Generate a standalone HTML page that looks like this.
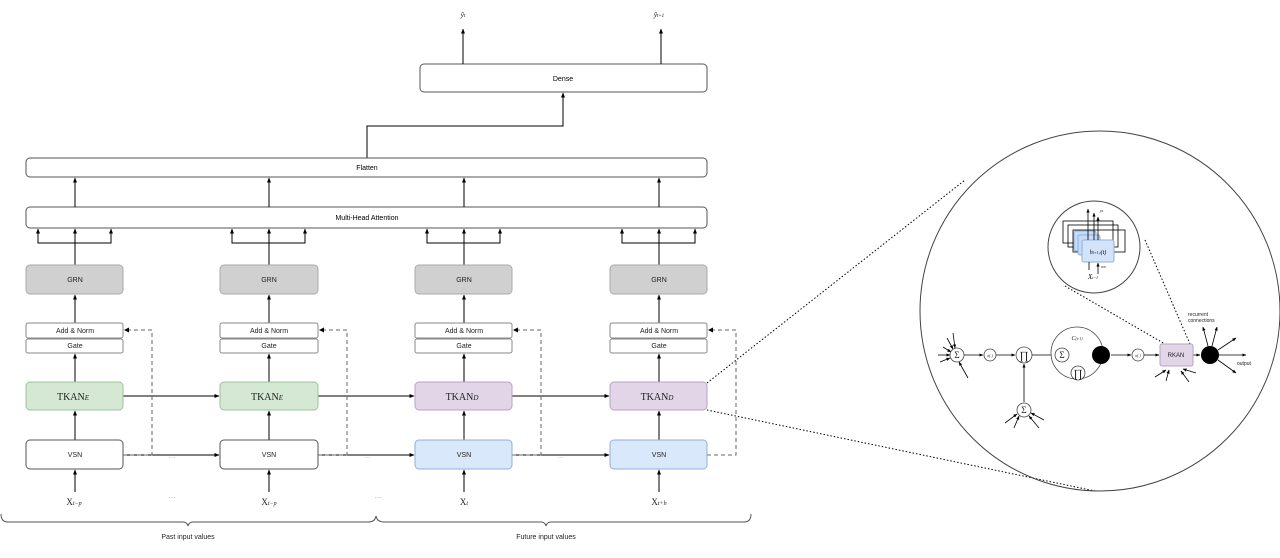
<!DOCTYPE html>
<html><head><meta charset="utf-8"><style>
html,body{margin:0;padding:0;background:#fff;}
svg{display:block;font-family:"Liberation Sans",sans-serif;}
</style></head><body>
<svg width="1280" height="558" viewBox="0 0 1280 558" xmlns="http://www.w3.org/2000/svg">
<defs>
<marker id="a" viewBox="0 0 10 10" refX="9" refY="5" markerWidth="5" markerHeight="5" orient="auto"><path d="M0,1 L10,5 L0,9 z" fill="#000"/></marker>
</defs>
<g stroke="#555" stroke-width="1" fill="none">
<!-- Dense -->
<rect x="420" y="64" width="287" height="28" rx="4" fill="#fff"/>
<line x1="463" y1="64" x2="463" y2="29" stroke="#000" marker-end="url(#a)"/>
<line x1="661" y1="64" x2="661" y2="29" stroke="#000" marker-end="url(#a)"/>
<polyline points="367,158 367,126 563,126 563,93" stroke="#000" marker-end="url(#a)"/>
<rect x="26" y="158" width="681" height="19" rx="4" fill="#fff"/>
<rect x="26" y="207" width="681" height="21" rx="4" fill="#fff"/>
</g>
<g font-size="7" text-anchor="middle" fill="#000">
<text x="563" y="81">Dense</text>
<text x="367" y="170">Flatten</text>
<text x="367" y="220">Multi-Head Attention</text>
<text x="463" y="17" font-family="Liberation Serif" font-style="italic" font-size="7">ŷ<tspan font-size="5">t</tspan></text>
<text x="659" y="17" font-family="Liberation Serif" font-style="italic" font-size="7">ŷ<tspan font-size="5">t+1</tspan></text>
</g>

<!-- Columns -->
<g id="cols" stroke-width="1">
<!-- generated per column -->
</g>
<g fill="none" stroke="#000">
<!-- col x: 26,220,415,610 ; centers 75,269,464,659 -->
<!-- MHA to flatten -->
<line x1="75" y1="207" x2="75" y2="178" marker-end="url(#a)"/>
<line x1="269" y1="207" x2="269" y2="178" marker-end="url(#a)"/>
<line x1="464" y1="207" x2="464" y2="178" marker-end="url(#a)"/>
<line x1="659" y1="207" x2="659" y2="178" marker-end="url(#a)"/>
<!-- branches -->
<g>
<line x1="75" y1="265" x2="75" y2="229" marker-end="url(#a)"/><polyline points="38,229 38,243 111,243 111,229"/><line x1="38" y1="232" x2="38" y2="229" marker-end="url(#a)"/><line x1="111" y1="232" x2="111" y2="229" marker-end="url(#a)"/>
<line x1="269" y1="265" x2="269" y2="229" marker-end="url(#a)"/><polyline points="232,229 232,243 305,243 305,229"/><line x1="232" y1="232" x2="232" y2="229" marker-end="url(#a)"/><line x1="305" y1="232" x2="305" y2="229" marker-end="url(#a)"/>
<line x1="464" y1="265" x2="464" y2="229" marker-end="url(#a)"/><polyline points="427,229 427,243 500,243 500,229"/><line x1="427" y1="232" x2="427" y2="229" marker-end="url(#a)"/><line x1="500" y1="232" x2="500" y2="229" marker-end="url(#a)"/>
<line x1="659" y1="265" x2="659" y2="229" marker-end="url(#a)"/><polyline points="622,229 622,243 695,243 695,229"/><line x1="622" y1="232" x2="622" y2="229" marker-end="url(#a)"/><line x1="695" y1="232" x2="695" y2="229" marker-end="url(#a)"/>
</g>
<!-- vertical chain -->
<g>
<line x1="75" y1="323" x2="75" y2="295" marker-end="url(#a)"/><line x1="75" y1="382" x2="75" y2="354" marker-end="url(#a)"/><line x1="75" y1="440" x2="75" y2="411" marker-end="url(#a)"/><line x1="75" y1="492" x2="75" y2="470" marker-end="url(#a)"/>
<line x1="269" y1="323" x2="269" y2="295" marker-end="url(#a)"/><line x1="269" y1="382" x2="269" y2="354" marker-end="url(#a)"/><line x1="269" y1="440" x2="269" y2="411" marker-end="url(#a)"/><line x1="269" y1="492" x2="269" y2="470" marker-end="url(#a)"/>
<line x1="464" y1="323" x2="464" y2="295" marker-end="url(#a)"/><line x1="464" y1="382" x2="464" y2="354" marker-end="url(#a)"/><line x1="464" y1="440" x2="464" y2="411" marker-end="url(#a)"/><line x1="464" y1="492" x2="464" y2="470" marker-end="url(#a)"/>
<line x1="659" y1="323" x2="659" y2="295" marker-end="url(#a)"/><line x1="659" y1="382" x2="659" y2="354" marker-end="url(#a)"/><line x1="659" y1="440" x2="659" y2="411" marker-end="url(#a)"/><line x1="659" y1="492" x2="659" y2="470" marker-end="url(#a)"/>
</g>
<!-- horizontal -->
<line x1="123" y1="396" x2="219" y2="396" marker-end="url(#a)"/>
<line x1="318" y1="396" x2="414" y2="396" marker-end="url(#a)"/>
<line x1="512" y1="396" x2="609" y2="396" marker-end="url(#a)"/>
<line x1="123" y1="455" x2="219" y2="455" marker-end="url(#a)"/>
<line x1="318" y1="455" x2="414" y2="455" marker-end="url(#a)"/>
<line x1="512" y1="455" x2="609" y2="455" marker-end="url(#a)"/>
</g>
<g fill="none" stroke="#666" stroke-dasharray="4,3">
<polyline points="123,455 152,455 152,330 126,330"/>
<polyline points="318,455 347,455 347,330 321,330"/>
<polyline points="512,455 541,455 541,330 515,330"/>
<polyline points="707,455 736,455 736,330 710,330"/>
</g>
<g fill="#000"><path d="M124,330 l5,-2.5 v5z"/><path d="M319,330 l5,-2.5 v5z"/><path d="M513,330 l5,-2.5 v5z"/><path d="M708,330 l5,-2.5 v5z"/></g>
<g fill="#fff" stroke="#888">
<rect x="26" y="265" width="97" height="29" rx="4" fill="#d0d0d0" stroke="#aaa"/>
<rect x="220" y="265" width="98" height="29" rx="4" fill="#d0d0d0" stroke="#aaa"/>
<rect x="415" y="265" width="97" height="29" rx="4" fill="#d0d0d0" stroke="#aaa"/>
<rect x="610" y="265" width="97" height="29" rx="4" fill="#d0d0d0" stroke="#aaa"/>
<rect x="26" y="323" width="97" height="15" rx="2"/><rect x="26" y="339" width="97" height="14" rx="2"/>
<rect x="220" y="323" width="98" height="15" rx="2"/><rect x="220" y="339" width="98" height="14" rx="2"/>
<rect x="415" y="323" width="97" height="15" rx="2"/><rect x="415" y="339" width="97" height="14" rx="2"/>
<rect x="610" y="323" width="97" height="15" rx="2"/><rect x="610" y="339" width="97" height="14" rx="2"/>
<rect x="26" y="382" width="97" height="28" rx="4" fill="#d5e8d4" stroke="#9bc49a"/>
<rect x="220" y="382" width="98" height="28" rx="4" fill="#d5e8d4" stroke="#9bc49a"/>
<rect x="415" y="382" width="97" height="28" rx="4" fill="#e1d5e7" stroke="#b9a3c6"/>
<rect x="610" y="382" width="97" height="28" rx="4" fill="#e1d5e7" stroke="#b9a3c6"/>
<rect x="26" y="440" width="97" height="29" rx="4" stroke="#555"/>
<rect x="220" y="440" width="98" height="29" rx="4" stroke="#555"/>
<rect x="415" y="440" width="97" height="29" rx="4" fill="#dae8fc" stroke="#8fb0d8"/>
<rect x="610" y="440" width="97" height="29" rx="4" fill="#dae8fc" stroke="#8fb0d8"/>
</g>
<g font-size="7" text-anchor="middle" fill="#222">
<text x="75" y="282">GRN</text><text x="269" y="282">GRN</text><text x="464" y="282">GRN</text><text x="659" y="282">GRN</text>
<text x="75" y="333">Add &amp; Norm</text><text x="269" y="333">Add &amp; Norm</text><text x="464" y="333">Add &amp; Norm</text><text x="659" y="333">Add &amp; Norm</text>
<text x="75" y="348">Gate</text><text x="269" y="348">Gate</text><text x="464" y="348">Gate</text><text x="659" y="348">Gate</text>
<text x="75" y="457">VSN</text><text x="269" y="457">VSN</text><text x="464" y="457">VSN</text><text x="659" y="457">VSN</text>
<g font-family="Liberation Serif" font-size="10">
<text x="73" y="400">TKAN<tspan font-size="7" font-style="italic">E</tspan></text>
<text x="267" y="400">TKAN<tspan font-size="7" font-style="italic">E</tspan></text>
<text x="462" y="400">TKAN<tspan font-size="7" font-style="italic">D</tspan></text>
<text x="657" y="400">TKAN<tspan font-size="7" font-style="italic">D</tspan></text>
<text x="74" y="505" font-size="9">X<tspan font-size="6" font-style="italic">t−p</tspan></text>
<text x="269" y="505" font-size="9">X<tspan font-size="6" font-style="italic">t−p</tspan></text>
<text x="464" y="505" font-size="9">X<tspan font-size="6" font-style="italic">t</tspan></text>
<text x="659" y="505" font-size="9">X<tspan font-size="6" font-style="italic">t+h</tspan></text>
</g>
<text x="172" y="498" fill="#888">…</text><text x="378" y="498" fill="#888">…</text>
<text x="172" y="458" fill="#aaa">…</text><text x="367" y="458" fill="#aaa">…</text><text x="561" y="458" fill="#aaa">…</text>
<text x="188" y="539">Past input values</text>
<text x="546" y="539">Future input values</text>
</g>
<!-- braces -->
<g fill="none" stroke="#555">
<path d="M1,514 Q1,522 8,522 L183,522 Q187,522 188,526 Q189,522 193,522 L368,522 Q375,522 376,516"/>
<path d="M376,516 Q377,522 384,522 L541,522 Q545,522 546,526 Q547,522 551,522 L744,522 Q751,522 751,514"/>
</g>
<!-- dotted zoom lines -->
<g stroke="#000" stroke-dasharray="1.5,2" fill="none">
<line x1="707" y1="383" x2="965" y2="180"/>
<line x1="707" y1="410" x2="1095" y2="491"/>
<line x1="1065" y1="286" x2="1165" y2="344"/>
<line x1="1145" y1="240" x2="1190" y2="344"/>
</g>
<!-- big circle -->
<circle cx="1100" cy="311" r="180" fill="none" stroke="#444"/>
<circle cx="1094" cy="247" r="46" fill="#fff" stroke="#444"/>
<!-- inner stacked -->
<g stroke="#000" fill="none" stroke-width="0.8">
<rect x="1063" y="221" width="50" height="22"/>
<rect x="1068" y="225" width="50" height="22"/>
<rect x="1073" y="230" width="52" height="22"/>
</g>
<rect x="1074" y="231" width="22" height="20" rx="2" fill="#c5dcf7" stroke="#8fb0d8"/>
<rect x="1078" y="235" width="22" height="20" rx="2" fill="#c5dcf7" stroke="#8fb0d8"/>
<rect x="1082" y="240" width="32" height="22" rx="2" fill="#d3e4fa" stroke="#8fb0d8"/>
<text x="1098" y="254" font-family="Liberation Serif" font-style="italic" font-size="6" text-anchor="middle">h<tspan font-size="4">l+1,i</tspan>(t)</text>
<g stroke="#000" fill="none" stroke-width="0.8">
<line x1="1088" y1="240" x2="1088" y2="209" marker-end="url(#a)"/>
<line x1="1094" y1="240" x2="1094" y2="213" marker-end="url(#a)"/>
<line x1="1098" y1="240" x2="1098" y2="217" marker-end="url(#a)"/>
<line x1="1089" y1="270" x2="1089" y2="262"/>
<line x1="1098" y1="274" x2="1098" y2="263" marker-end="url(#a)"/>
</g>
<text x="1100" y="212" font-size="4" font-style="italic" font-family="Liberation Serif">y<tspan font-size="3">h</tspan></text>
<text x="1101" y="268" font-size="4" font-style="italic" font-family="Liberation Serif">w<tspan font-size="3">hi</tspan></text>
<text x="1093" y="279" font-size="7" font-style="italic" font-family="Liberation Serif" text-anchor="middle">X<tspan font-size="4">t−1</tspan></text>
<!-- neuron row -->
<g stroke="#000" fill="none" stroke-width="0.8">
<line x1="963" y1="355" x2="983" y2="355" marker-end="url(#a)"/>
<line x1="996" y1="355" x2="1015" y2="355" marker-end="url(#a)"/>
<line x1="1032" y1="355" x2="1055" y2="355" marker-end="url(#a)"/>
<line x1="1069" y1="355" x2="1091" y2="355" marker-end="url(#a)"/>
<line x1="1111" y1="355" x2="1131" y2="355" marker-end="url(#a)"/>
<line x1="1144" y1="355" x2="1159" y2="355" marker-end="url(#a)"/>
<line x1="1193" y1="355" x2="1200" y2="355" marker-end="url(#a)"/>
<line x1="1024" y1="402" x2="1024" y2="364" marker-end="url(#a)"/>
<line x1="943" y1="347" x2="951" y2="352" marker-end="url(#a)"/>
<line x1="938" y1="355" x2="950" y2="355" marker-end="url(#a)"/>
<line x1="940" y1="362" x2="950" y2="358" marker-end="url(#a)"/>
<line x1="947" y1="338" x2="953" y2="349" marker-end="url(#a)"/>
<line x1="953" y1="333" x2="955" y2="348" marker-end="url(#a)"/>
<line x1="968" y1="378" x2="959" y2="362" marker-end="url(#a)"/>
<line x1="1005" y1="423" x2="1017" y2="414" marker-end="url(#a)"/>
<line x1="1014" y1="428" x2="1019" y2="416" marker-end="url(#a)"/>
<line x1="1044" y1="420" x2="1031" y2="413" marker-end="url(#a)"/>
<line x1="1039" y1="428" x2="1029" y2="416" marker-end="url(#a)"/>
<line x1="1155" y1="377" x2="1166" y2="370" marker-end="url(#a)"/>
<line x1="1166" y1="381" x2="1169" y2="370" marker-end="url(#a)"/>
<line x1="1196" y1="373" x2="1183" y2="369" marker-end="url(#a)"/>
<line x1="1189" y1="382" x2="1181" y2="371" marker-end="url(#a)"/>
<line x1="1208" y1="346" x2="1203" y2="327" marker-end="url(#a)"/>
<line x1="1212" y1="346" x2="1217" y2="327" marker-end="url(#a)"/>
<line x1="1218" y1="350" x2="1236" y2="338" marker-end="url(#a)"/>
<line x1="1219" y1="355" x2="1246" y2="355" marker-end="url(#a)"/>
<line x1="1218" y1="360" x2="1236" y2="373" marker-end="url(#a)"/>
</g>
<g stroke="#444" fill="#fff" stroke-width="0.8">
<circle cx="957" cy="355" r="7"/>
<circle cx="990" cy="355" r="6"/>
<circle cx="1024" cy="355" r="8"/>
<circle cx="1077" cy="353" r="26"/>
<circle cx="1062" cy="355" r="7"/>
<circle cx="1078" cy="373" r="7"/>
<circle cx="1138" cy="355" r="6"/>
<circle cx="1024" cy="410" r="7"/>
</g>
<circle cx="1101" cy="355" r="9" fill="#000"/>
<circle cx="1210" cy="355" r="9" fill="#000"/>
<rect x="1160" y="344" width="33" height="22" rx="2" fill="#e1d5e7" stroke="#b9a3c6"/>
<g font-family="Liberation Serif" text-anchor="middle" fill="#222">
<text x="957" y="358" font-size="9">Σ</text>
<text x="1062" y="358" font-size="9">Σ</text>
<text x="1024" y="413" font-size="9">Σ</text>
<text x="1024" y="359" font-size="11">∏</text>
<text x="1078" y="377" font-size="11">∏</text>
<text x="990" y="357" font-size="4" font-style="italic">σ(.)</text>
<text x="1138" y="357" font-size="4" font-style="italic">σ(.)</text>
<text x="1077" y="340" font-size="6" font-style="italic">C<tspan font-size="4">(t-1)</tspan></text>
</g>
<g font-size="5" fill="#222">
<text x="1176" y="357" text-anchor="middle" font-size="6">RKAN</text>
<text x="1188" y="316">recurrent</text>
<text x="1188" y="322">connections</text>
<text x="1237" y="365">output</text>
</g>
</svg>
</body></html>
